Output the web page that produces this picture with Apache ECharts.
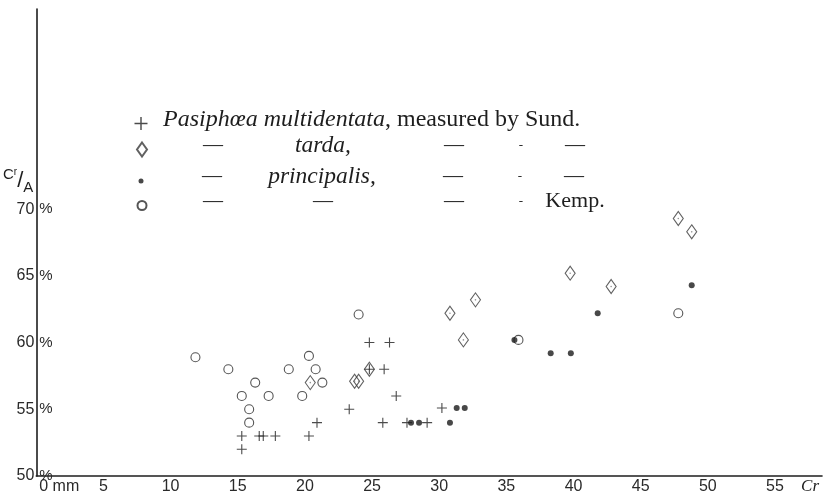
<!DOCTYPE html>
<html>
<head>
<meta charset="utf-8">
<script src="https://cdn.jsdelivr.net/npm/echarts@6/dist/echarts.min.js"></script>
<style>
  html, body { margin: 0; padding: 0; background: #ffffff; }
  #chart { width: 825px; height: 495px; }
</style>
</head>
<body>
<div id="chart"></div>
<script>
// Carapace length (mm) against the ratio C/A (%) for four sets of measurements
const xTicks = [0, 5, 10, 15, 20, 25, 30, 35, 40, 45, 50, 55];
const yTicks = [50, 55, 60, 65, 70];

// Pasiphaea multidentata, measured by Sund.
const multidentata = [
  [15.3, 53], [15.3, 52], [16.6, 53], [16.9, 53], [17.8, 53], [20.3, 53],
  [20.9, 54], [23.3, 55], [24.8, 60], [26.3, 60], [24.8, 58], [25.9, 58],
  [26.8, 56], [25.8, 54], [27.6, 54], [29.1, 54], [30.2, 55.1]
];
// P. tarda, measured by Sund.
const tarda = [
  [20.4, 57], [23.7, 57.1], [24.0, 57.1], [24.8, 58], [30.8, 62.2], [31.8, 60.2],
  [32.7, 63.2], [39.75, 65.2], [42.8, 64.2], [47.8, 69.3], [48.8, 68.3]
];
// P. principalis, measured by Sund.
const principalis = [
  [27.9, 54], [28.5, 54], [30.8, 54], [31.3, 55.1], [31.9, 55.1], [35.6, 60.2],
  [38.3, 59.2], [39.8, 59.2], [41.8, 62.2], [48.8, 64.3]
];
// Measured by Kemp.
const kemp = [
  [11.85, 58.9], [14.3, 58], [16.3, 57], [15.3, 56], [17.3, 56], [15.85, 55],
  [15.85, 54], [18.8, 58], [20.3, 59], [20.8, 58], [21.3, 57], [19.8, 56],
  [24.0, 62.1], [35.9, 60.2], [47.8, 62.2]
];

const INK = '#1e1e1e';
const SERIF = '"Liberation Serif", "DejaVu Serif", serif';
const SANS = '"Liberation Sans", "DejaVu Sans", sans-serif';
const PLUS = 'path://M-5,-0.55 L5,-0.55 L5,0.55 L-5,0.55 Z M-0.55,-5 L0.55,-5 L0.55,5 L-0.55,5 Z';

// Columns of the key (text rows with ditto dashes)
function keyRich() {
  const base = { fontFamily: SERIF, fontSize: 22, color: INK, lineHeight: 26, padding: [0, 0, 8, 0] };
  return {
    a: Object.assign({}, base, { width: 0 }),
    i: Object.assign({}, base, { fontStyle: 'italic', fontSize: 24 }),
    r: Object.assign({}, base, { fontSize: 24 }),
    d: Object.assign({}, base, { fontSize: 20, width: 44, align: 'center' }),
    m: Object.assign({}, base, { fontStyle: 'italic', fontSize: 23.5, width: 176, align: 'center' }),
    md: Object.assign({}, base, { fontSize: 20, width: 176, align: 'center' }),
    d2: Object.assign({}, base, { fontSize: 20, width: 86, align: 'center' }),
    h: Object.assign({}, base, { fontSize: 13, width: 48, align: 'center' }),
    e: Object.assign({}, base, { width: 60, align: 'center' }),
    ed: Object.assign({}, base, { fontSize: 20, width: 60, align: 'center' })
  };
}

function keyLegend(name, top, w, h, offset) {
  const rich = keyRich();
  rich.a.width = offset;
  return {
    data: [name],
    left: 141 - w / 2,
    top: top - h / 2,
    itemWidth: w,
    itemHeight: h,
    selectedMode: false,
    padding: 0,
    formatter: function (n) {
      if (n === 'multidentata') return '{a|}{i|Pasiphœa multidentata}{r|, measured by Sund.}';
      if (n === 'tarda') return '{a|}{d|—}{m|tarda,}{d2|—}{h|-}{ed|—}';
      if (n === 'principalis') return '{a|}{d|—}{m|principalis,}{d2|—}{h|-}{ed|—}';
      return '{a|}{d|—}{md|—}{d2|—}{h|-}{e|Kemp.}';
    },
    textStyle: { rich: rich }
  };
}

const chart = echarts.init(document.getElementById('chart'), null, { renderer: 'canvas' });

chart.setOption({
  backgroundColor: '#ffffff',
  animation: false,
  grid: { left: 35, right: 0, top: 9, bottom: 19, containLabel: false },
  legend: [
    keyLegend('multidentata', 114, 13, 13, 163 - (141 + 6.5 + 5)),
    keyLegend('tarda', 141, 10, 14, 190 - (141 + 5 + 5)),
    keyLegend('principalis', 168, 5, 5, 190 - (141 + 2.5 + 5)),
    keyLegend('kemp', 195, 9, 9, 190 - (141 + 4.5 + 5))
  ],
  xAxis: {
    type: 'value',
    min: 0,
    max: 58.5,
    interval: 5,
    axisLine: { show: true, lineStyle: { color: INK, width: 1.6 } },
    axisTick: { show: false },
    splitLine: { show: false },
    name: '{n|Cr}',
    nameLocation: 'end',
    nameGap: -3,
    nameTextStyle: {
      align: 'right', verticalAlign: 'top',
      rich: { n: { fontFamily: SERIF, fontStyle: 'italic', fontSize: 17, color: INK, padding: [2, 0, 0, 0] } }
    },
    axisLabel: {
      margin: 3,
      fontFamily: SANS,
      fontSize: 16,
      color: '#2a2a2a',
      formatter: function (v) {
        if (xTicks.indexOf(v) < 0) return '';
        return v === 0 ? '{z|0 mm}' : String(v);
      },
      rich: { z: { fontFamily: SANS, fontSize: 16, color: '#2a2a2a', padding: [0, 0, 0, 46] } }
    }
  },
  yAxis: [
    {
      type: 'value',
      min: 50,
      max: 85,
      interval: 5,
      axisLine: { show: true, lineStyle: { color: INK, width: 1.6 } },
      axisTick: { show: false },
      splitLine: { show: false },
      name: '{c|C}{r|r}{s|/}{a|A}',
      nameLocation: 'end',
      nameGap: -186,
      nameTextStyle: {
        align: 'right',
        rich: {
          c: { fontFamily: SANS, fontSize: 15, color: INK, lineHeight: 28, verticalAlign: 'top' },
          r: { fontFamily: SANS, fontSize: 10, color: INK, lineHeight: 28, verticalAlign: 'top' },
          s: { fontFamily: SANS, fontSize: 22, color: INK, lineHeight: 28, verticalAlign: 'middle' },
          a: { fontFamily: SANS, fontSize: 15, color: INK, lineHeight: 28, verticalAlign: 'bottom', padding: [0, 3, 0, 0] }
        }
      },
      axisLabel: {
        margin: 2,
        fontFamily: SANS,
        fontSize: 16,
        color: '#2a2a2a',
        formatter: function (v) { return yTicks.indexOf(v) >= 0 ? String(v) : ''; }
      }
    },
    {
      type: 'value',
      min: 50,
      max: 85,
      interval: 5,
      position: 'left',
      axisLine: { show: false },
      axisTick: { show: false },
      splitLine: { show: false },
      axisLabel: {
        inside: true,
        margin: 3,
        fontFamily: SANS,
        fontSize: 15,
        color: '#2a2a2a',
        formatter: function (v) { return yTicks.indexOf(v) >= 0 ? '%' : ''; }
      }
    }
  ],
  series: [
    {
      name: 'kemp', type: 'scatter', data: kemp,
      symbol: 'circle', symbolSize: 9,
      itemStyle: { color: 'rgba(255,255,255,0)', borderColor: '#2a2a2a', borderWidth: 1.1 }
    },
    {
      name: 'tarda', type: 'scatter', data: tarda,
      symbol: 'diamond', symbolSize: [10, 14],
      itemStyle: { color: 'rgba(255,255,255,0)', borderColor: '#3a3a3a', borderWidth: 1.1 }
    },
    {
      name: 'tarda-centre', type: 'scatter', data: tarda,
      symbol: 'circle', symbolSize: 1.6, silent: true,
      itemStyle: { color: '#777777' }
    },
    {
      name: 'principalis', type: 'scatter', data: principalis,
      symbol: 'circle', symbolSize: 6,
      itemStyle: { color: '#1a1a1a' }
    },
    {
      name: 'multidentata', type: 'scatter', data: multidentata,
      symbol: PLUS, symbolSize: 10,
      itemStyle: { color: '#1e1e1e' }
    }
  ]
});
</script>
</body>
</html>
